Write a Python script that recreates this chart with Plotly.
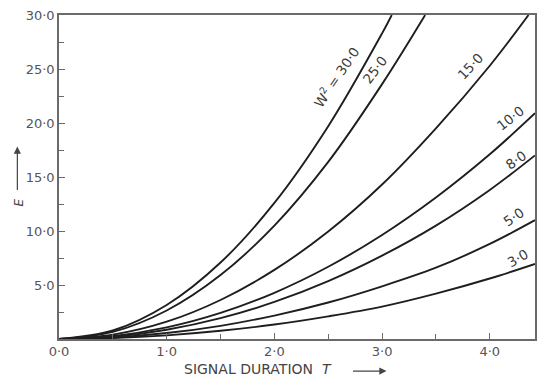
import plotly.graph_objects as go

# Signal duration T (x values)
T = [0.0, 0.5, 1.0, 1.5, 2.0, 2.5, 3.0, 3.5, 4.0, 4.42]

# E values per W^2 curve
E_w3 = [0.0, 0.09, 0.34, 0.76, 1.34, 2.10, 3.00, 4.20, 5.60, 6.95]
E_w5 = [0.0, 0.14, 0.55, 1.22, 2.17, 3.38, 4.88, 6.60, 8.80, 11.0]
E_w8 = [0.0, 0.21, 0.86, 1.93, 3.43, 5.36, 7.72, 10.5, 13.8, 17.0]
E_w10 = [0.0, 0.27, 1.07, 2.41, 4.28, 6.69, 9.63, 13.1, 17.1, 20.9]

T_w15 = [0.0, 0.5, 1.0, 1.5, 2.0, 2.5, 3.0, 3.5, 4.0, 4.36]
E_w15 = [0.0, 0.40, 1.60, 3.61, 6.40, 9.95, 14.3, 19.5, 25.3, 30.0]

T_w25 = [0.0, 0.5, 1.0, 1.5, 2.0, 2.5, 3.0, 3.40]
E_w25 = [0.0, 0.66, 2.64, 5.92, 10.5, 16.4, 23.6, 30.0]

T_w30 = [0.0, 0.5, 1.0, 1.5, 2.0, 2.5, 3.0, 3.09]
E_w30 = [0.0, 0.79, 3.15, 7.08, 12.6, 19.7, 28.3, 30.0]

series = [
    ("3·0", T, E_w3),
    ("5·0", T, E_w5),
    ("8·0", T, E_w8),
    ("10·0", T, E_w10),
    ("15·0", T_w15, E_w15),
    ("25·0", T_w25, E_w25),
    ("30·0", T_w30, E_w30),
]

# Curve labels: text, T, E, angle
labels = [
    ("W<sup>2</sup> = 30·0", 2.57, 24.3, -56),
    ("25·0", 2.93, 24.9, -53),
    ("15·0", 3.82, 25.3, -47),
    ("10·0", 4.19, 20.5, -38),
    ("8·0", 4.24, 16.6, -35),
    ("5·0", 4.22, 11.3, -35),
    ("3·0", 4.26, 7.5, -30),
]

x_ticks = [0, 1, 2, 3, 4]
x_ticktext = ["0·0", "1·0", "2·0", "3·0", "4·0"]
x_minor = [0.5, 1.5, 2.5, 3.5]
y_ticks = [5, 10, 15, 20, 25, 30]
y_ticktext = ["5·0", "10·0", "15·0", "20·0", "25·0", "30·0"]
y_minor = [2.5, 7.5, 12.5, 17.5, 22.5, 27.5]

FONT = "DejaVu Sans, Liberation Sans, sans-serif"

fig = go.Figure()
for name, xs, ys in series:
    fig.add_trace(go.Scatter(x=xs, y=ys, mode="lines", name=name,
                             line=dict(color="#1e1e1e", width=1.9, shape="spline"),
                             showlegend=False, cliponaxis=True))

for txt, x, y, ang in labels:
    fig.add_annotation(x=x, y=y, xref="x", yref="y", text=txt, showarrow=False,
                       textangle=ang, font=dict(family=FONT, size=13.5, color="#3a3a3a"))

# x axis title
fig.add_annotation(x=0.258, y=-0.093, xref="paper", yref="paper", xanchor="left",
                   yanchor="middle", text="SIGNAL DURATION  <i>T</i>", showarrow=False,
                   font=dict(family=FONT, size=14, color="#444"))
fig.add_annotation(x=0.688, y=-0.099, xref="paper", yref="paper",
                   ax=-35, ay=0, text="", showarrow=True, arrowhead=2, arrowsize=1.2,
                   arrowwidth=1.2, arrowcolor="#444")
# y axis title
fig.add_annotation(x=-0.103, y=0.421, xref="paper", yref="paper", text="<i>E</i>",
                   textangle=-90, showarrow=False,
                   font=dict(family=FONT, size=12, color="#444"))
fig.add_annotation(x=-0.0875, y=0.594, xref="paper", yref="paper",
                   ax=0, ay=45, text="", showarrow=True, arrowhead=2, arrowsize=1.2,
                   arrowwidth=1.2, arrowcolor="#444")

tickfont = dict(family=FONT, size=13, color="#555")
axis_common = dict(showgrid=False, zeroline=False, showline=True, mirror=True,
                   linecolor="#6a6a6a", linewidth=1.5, ticks="inside", ticklen=6,
                   tickcolor="#6a6a6a", tickwidth=1.2, tickfont=tickfont)

fig.update_xaxes(range=[0, 4.42], tickmode="array", tickvals=x_ticks, ticktext=x_ticktext,
                 minor=dict(tickmode="array", tickvals=x_minor, ticks="inside", ticklen=5,
                            tickcolor="#6a6a6a", tickwidth=1.2),
                 **axis_common)
fig.update_yaxes(range=[0, 30], tickmode="array", tickvals=y_ticks, ticktext=y_ticktext,
                 minor=dict(tickmode="array", tickvals=y_minor, ticks="inside", ticklen=5,
                            tickcolor="#6a6a6a", tickwidth=1.2),
                 **axis_common)

fig.update_layout(width=540, height=376, margin=dict(l=59, r=3, t=15, b=37),
                  paper_bgcolor="white", plot_bgcolor="white")

fig.write_html("out.html", config={"displayModeBar": False},
               post_script="document.body.style.margin='0';document.body.style.overflow='hidden';")
